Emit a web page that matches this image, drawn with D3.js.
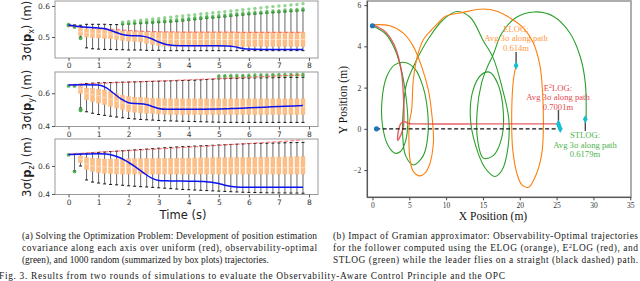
<!DOCTYPE html>
<html>
<head>
<meta charset="utf-8">
<script src="https://d3js.org/d3.v7.min.js"></script>
<style>
body { margin: 0; background: #fff; }
.tick text { fill: #333; }
</style>
</head>
<body>
<svg id="fig" width="640" height="281"></svg>
<script>
// ---------- left figure: box plots of 3-sigma over time ----------
var boxTimes = [0.2,0.4,0.6,0.8,1.0,1.2,1.4,1.6,1.8,2.0,2.2,2.4,2.6,2.8,3.0,3.2,3.4,3.6,3.8,4.0,
  4.2,4.4,4.6,4.8,5.0,5.2,5.4,5.6,5.8,6.0,6.2,6.4,6.6,6.8,7.0,7.2,7.4,7.6,7.8];
var timeTicks = [0,1,2,3,4,5,6,7,8];

// p_x panel
var xHi  = [.539,.538,.541,.541,.541,.541,.540,.540,.541,.542,.543,.544,.545,.546,.547,.548,.549,.550,.552,.554,
  .556,.558,.560,.562,.563,.565,.567,.569,.571,.573,.574,.576,.577,.579,.580,.581,.583,.584,.585];
var xQ3  = [.538,.530,.526,.525,.525,.524,.523,.521,.519,.518,.517,.517,.516,.516,.516,.516,.516,.516,.516,.516,
  .516,.516,.516,.516,.516,.516,.516,.516,.516,.516,.516,.516,.516,.516,.516,.516,.516,.516,.516];
var xMed = [.536,.517,.513,.512,.511,.510,.509,.506,.504,.502,.501,.500,.498,.496,.494,.493,.493,.492,.492,.492,
  .492,.492,.492,.492,.492,.492,.492,.492,.492,.492,.492,.492,.492,.492,.492,.492,.492,.492,.492];
var xQ1  = [.535,.505,.500,.498,.497,.496,.495,.492,.489,.487,.486,.484,.480,.476,.473,.471,.470,.470,.469,.469,
  .469,.469,.469,.469,.469,.469,.469,.469,.469,.469,.469,.469,.469,.469,.469,.469,.469,.469,.469];
var xLo  = [.533,.500,.465,.462,.461,.460,.460,.459,.459,.458,.458,.458,.457,.457,.457,.456,.456,.456,.456,.456,
  .456,.456,.456,.456,.456,.456,.456,.456,.456,.456,.456,.456,.456,.456,.456,.456,.456,.456,.456];
var xFlierTimes = [1.8,2.0,2.2,2.4,2.6,2.8,3.0,3.2,3.4,3.6,3.8,4.0,4.2,4.4,4.6,4.8,5.0,5.2,5.4,5.6,
  5.8,6.0,6.2,6.4,6.6,6.8,7.0,7.2,7.4,7.6,7.8];
var xFlierLo = [.542,.543,.544,.545,.546,.547,.548,.549,.550,.552,.554,.556,.558,.560,.562,.563,.565,.567,.569,.571,
  .573,.574,.576,.577,.579,.580,.581,.583,.584,.585,.587];
var xFlierHi = [.548,.550,.552,.554,.556,.558,.560,.562,.564,.566,.568,.570,.572,.574,.576,.578,.580,.582,.584,.586,
  .588,.590,.592,.594,.596,.598,.600,.601,.603,.605,.607];
var xOptimal = [[0,.540],[0,.537],[0.2,.532],[0.4,.496]];

// p_y panel
var yHi  = [.652,.655,.660,.662,.664,.665,.666,.667,.668,.669,.670,.671,.672,.673,.674,.675,.676,.677,.678,.679,
  .680,.682,.684,.686,.688,.689,.690,.691,.692,.693,.694,.694,.695,.695,.696,.696,.697,.697,.698];
var yQ3  = [.651,.648,.632,.628,.625,.620,.610,.598,.588,.580,.576,.574,.572,.570,.568,.567,.566,.566,.566,.566,
  .566,.566,.566,.566,.566,.566,.566,.566,.566,.566,.566,.566,.566,.566,.566,.566,.566,.566,.566];
var yMed = [.650,.625,.600,.592,.585,.575,.565,.552,.540,.532,.528,.526,.524,.522,.520,.519,.518,.518,.518,.518,
  .518,.518,.518,.518,.518,.518,.518,.518,.518,.518,.518,.518,.518,.518,.518,.518,.518,.518,.518];
var yQ1  = [.649,.600,.560,.548,.540,.530,.520,.510,.500,.490,.485,.480,.478,.476,.474,.472,.471,.470,.469,.469,
  .469,.469,.469,.469,.469,.469,.469,.469,.469,.469,.469,.469,.469,.469,.469,.469,.469,.469,.469];
var yLo  = [.647,.510,.487,.478,.470,.465,.460,.455,.450,.446,.443,.440,.438,.436,.434,.432,.431,.430,.429,.428,
  .427,.426,.425,.424,.423,.422,.422,.422,.422,.422,.422,.422,.422,.422,.422,.422,.422,.422,.422];
var yFlierTimes = [5.0,5.2,5.4,5.6,5.8,6.0,6.2,6.4,6.6,6.8,7.0,7.2,7.4,7.6,7.8];
var yFlierLo = [.700,.701,.702,.703,.703,.704,.705,.706,.706,.707,.708,.708,.709,.710,.710];
var yOptimal = [[0,.645],[0.2,.645],[0.4,.502],[0.4,.495]];

// p_z panel
var zHi  = [.686,.686,.690,.694,.697,.700,.703,.706,.709,.712,.715,.718,.721,.724,.727,.730,.733,.736,.738,.740,
  .742,.744,.746,.748,.750,.752,.754,.756,.758,.760,.761,.762,.763,.764,.765,.766,.767,.768,.769];
var zQ3  = [.685,.672,.660,.655,.652,.650,.650,.650,.651,.652,.652,.653,.653,.654,.654,.655,.655,.656,.656,.657,
  .657,.658,.658,.659,.659,.660,.660,.661,.661,.662,.662,.663,.663,.664,.664,.665,.665,.666,.666];
var zMed = [.684,.648,.615,.600,.595,.592,.590,.589,.588,.588,.588,.588,.588,.588,.588,.588,.588,.588,.588,.588,
  .588,.588,.588,.588,.588,.588,.588,.588,.588,.588,.588,.588,.588,.588,.588,.588,.588,.588,.588];
var zQ1  = [.683,.625,.575,.560,.552,.548,.545,.543,.542,.542,.542,.542,.542,.542,.542,.542,.542,.542,.542,.542,
  .542,.542,.542,.542,.542,.542,.542,.542,.542,.542,.542,.542,.542,.542,.542,.542,.542,.542,.542];
var zLo  = [.565,.600,.500,.485,.478,.472,.468,.465,.462,.458,.455,.452,.450,.447,.444,.441,.438,.435,.432,.430,
  .428,.426,.424,.422,.420,.418,.416,.414,.412,.411,.410,.409,.408,.408,.407,.407,.406,.406,.405];
var zOptimal = [[0,.680],[0.2,.560]];

// uniform trajectory (red dashed) and blue curve
var redTimes = [0,1,2,3,4,5,6,7,7.8];
var xRed = [.535,.528,.521,.517,.516,.516,.515,.515,.515];
var yRed = [.652,.661,.668,.675,.682,.690,.698,.706,.712];
var zRed = [.685,.699,.710,.722,.735,.748,.761,.774,.786];
var blueTimes = [0,0.5,1.0,1.25,1.5,1.75,2.0,2.25,2.5,2.75,3.0,3.25,3.5,4,4.5,5,5.25,5.5,5.75,6,6.5,7,7.5,7.8];
var xBlue = [.539,.532,.529,.526,.518,.509,.505,.504,.502,.495,.484,.476,.473,.472,.472,.472,.471,.469,.464,.461,.460,.460,.460,.460];
var yBlue = [.651,.652,.651,.635,.600,.565,.542,.537,.535,.522,.507,.502,.502,.502,.503,.504,.505,.507,.509,.511,.515,.519,.523,.525];
var zBlue = [.682,.686,.688,.686,.675,.655,.625,.590,.550,.515,.497,.494,.493,.491,.489,.475,.460,.451,.448,.447,.447,.447,.447,.448];

// ---------- right figure: trajectories ----------
var xPosTicks = [0,5,10,15,20,25,30,35];
var yPosTicks = [-2,0,2,4,6];
var leaderPath = [[0.5,0],[25.5,0]];
var e2logPath = [[0,5.05],[1.7,4.72],[2.83,4.16],[3.5,3.51],[3.96,2.7],[4.19,1.73],[4.28,0.76],[4.2,0.1],
  [3.85,-0.3],[3.45,-0.56],[3.5,-0.15],[3.85,0.25],[4.3,0.36],[4.9,0.26],[6,0.24],[15,0.24],[25.25,0.24]];
var elogPath = [[0,5.05],[2.38,5.0],[4.19,4.64],[5.55,4.0],[6.68,3.02],[7.59,1.89],[8.04,0.76],[8.27,-0.21],
  [8.27,-0.7],[7.81,-1.67],[7.13,-2.15],[6.36,-2.28],[5.55,-2.07],[5.1,-1.5],[4.96,-0.7],[5.0,0.28],
  [5.32,0.92],[5.55,2.38],[6.09,3.51],[6.9,4.32],[7.81,4.72],[8.72,5.05],[9.85,5.45],[12.3,5.65],
  [15.05,5.81],[16.9,5.7],[18.7,5.37],[20.5,4.89],[21.85,4.16],[22.76,3.02],[23.1,1.73],[23.2,-0.05],
  [23.0,-1.18],[22.3,-2.15],[21.2,-2.83],[20.3,-2.72],[19.6,-2.15],[19.05,-1.02],[18.9,0.28],
  [19.05,2.05],[19.27,2.7],[19.5,3.07]];
var stlogPath = [[0,5.0],[1.8,4.6],[3.0,3.9],[3.9,2.9],[4.5,1.7],[4.8,0.4],[4.5,-0.6],[3.8,-1.1],[3.06,-1.18],
  [2.1,-0.8],[1.35,0.2],[1.3,1.4],[1.9,2.5],[3.0,3.1],[4.42,3.22],[5.8,2.9],[6.9,2.0],[7.5,0.8],[7.5,-0.4],
  [6.9,-1.3],[5.55,-1.75],[4.5,-1.3],[4.1,-0.3],[4.2,1.0],[4.64,2.2],[6.0,3.35],[7.8,4.48],[9.6,5.29],
  [11.44,5.69],[13.3,5.4],[15.0,4.3],[16.4,3.43],[17.6,2.0],[18.5,0.5],[18.4,-0.9],[17.6,-2.0],[16.64,-2.31],
  [15.3,-1.9],[14.0,-0.8],[13.3,0.5],[13.6,1.8],[14.7,2.6],[15.88,2.75],[17.0,2.2],[17.77,0.8],[17.5,-0.5],
  [16.4,-1.3],[15.05,-1.42],[14.3,-0.6],[14.2,0.8],[14.8,2.2],[15.6,3.0],[16.4,3.6],[17.5,4.6],[19.5,5.4],
  [22,5.67],[24.6,5.45],[26.8,4.65],[28.2,3.51],[28.9,2.22],[29.0,0.47]];
var startPoints = [[0,5],[0.55,0]];
var endPoints = [[19.5,3.07],[25.25,0.24],[28.9,0.47],[25.5,0.0],[25.35,0.12]];

var captionA = ["(a) Solving the Optimization Problem: Development of position estimation",
  "covariance along each axis over uniform (red), observability-optimal",
  "(green), and 1000 random (summarized by box plots) trajectories."];
var captionB = ["(b) Impact of Gramian approximator: Observability-Optimal trajectories",
  "for the follower computed using the ELOG (orange), E\u00B2LOG (red), and",
  "STLOG (green) while the leader flies on a straight (black dashed) path."];
var figCaption = "Fig. 3.  Results from two rounds of simulations to evaluate the Observability-Aware Control Principle and the OPC";

var svg = d3.select("#fig");
var sans = "'DejaVu Sans', sans-serif";
var serif = "'Liberation Serif', serif";

var xT = d3.scaleLinear().domain([-0.45, 8.3]).range([55, 318]);

function zip(ts, vs) { return ts.map(function(t, i) { return [t, vs[i]]; }); }

/**
 * One box-plot panel.
 */
function drawPanel(p, idx) {
  var y = d3.scaleLinear().domain(p.domain).range([p.bottom, p.top]);
  var clipId = "clip" + idx;
  svg.append("clipPath").attr("id", clipId).append("rect")
    .attr("x", 55).attr("y", p.top).attr("width", 263).attr("height", p.bottom - p.top);
  var g = svg.append("g").attr("clip-path", "url(#" + clipId + ")");

  // whiskers
  g.selectAll(".wh").data(boxTimes).enter().append("line")
    .attr("x1", function(t) { return xT(t); }).attr("x2", function(t) { return xT(t); })
    .attr("y1", function(t, i) { return y(p.hi[i]); }).attr("y2", function(t, i) { return y(p.lo[i]); })
    .attr("stroke", "#555").attr("stroke-width", 0.9);
  // caps
  [p.hi, p.lo].forEach(function(arr) {
    g.selectAll(null).data(boxTimes).enter().append("line")
      .attr("x1", function(t) { return xT(t) - 1.5; }).attr("x2", function(t) { return xT(t) + 1.5; })
      .attr("y1", function(t, i) { return y(arr[i]); }).attr("y2", function(t, i) { return y(arr[i]); })
      .attr("stroke", "#111").attr("stroke-width", 1);
  });
  // boxes
  g.selectAll(".bx").data(boxTimes).enter().append("rect")
    .attr("x", function(t) { return xT(t) - 2; }).attr("width", 4)
    .attr("y", function(t, i) { return y(p.q3[i]); })
    .attr("height", function(t, i) { return Math.max(0.8, y(p.q1[i]) - y(p.q3[i])); })
    .attr("fill", "#fdbf88").attr("stroke", "#fcb272").attr("stroke-width", 0.4);
  g.selectAll(".md").data(boxTimes).enter().append("line")
    .attr("x1", function(t) { return xT(t) - 2; }).attr("x2", function(t) { return xT(t) + 2; })
    .attr("y1", function(t, i) { return y(p.med[i]); }).attr("y2", function(t, i) { return y(p.med[i]); })
    .attr("stroke", "#ffe2c6").attr("stroke-width", 0.8);

  // green fliers / optimal
  if (p.flierLo) {
    g.selectAll(null).data(zip(p.flierTimes, p.flierLo)).enter().append("circle")
      .attr("cx", function(d) { return xT(d[0]); }).attr("cy", function(d) { return y(d[1]); })
      .attr("r", 1.7).attr("fill", "#3fa63f").attr("opacity", 0.85);
    g.selectAll(null).data(zip(p.flierTimes, p.flierLo)).enter().append("circle")
      .attr("cx", function(d) { return xT(d[0]); }).attr("cy", function(d) { return y(d[1]) - 1.4; })
      .attr("r", 1.6).attr("fill", "#3fa63f").attr("opacity", 0.7);
  }
  if (p.flierHi) {
    g.selectAll(null).data(zip(p.flierTimes, p.flierHi)).enter().append("circle")
      .attr("cx", function(d) { return xT(d[0]); }).attr("cy", function(d) { return y(d[1]); })
      .attr("r", 1.7).attr("fill", "#80cc80").attr("opacity", 0.85);
  }
  g.selectAll(null).data(p.optimal).enter().append("circle")
    .attr("cx", function(d) { return xT(d[0]); }).attr("cy", function(d) { return y(d[1]); })
    .attr("r", 1.9).attr("fill", "#3fa63f").attr("opacity", 0.85);

  // uniform (red dashed) and blue
  var line = d3.line().curve(d3.curveMonotoneX)
    .x(function(d) { return xT(d[0]); }).y(function(d) { return y(d[1]); });
  g.append("path").datum(zip(redTimes, p.red)).attr("d", line)
    .attr("fill", "none").attr("stroke", "#ff5a5a").attr("stroke-width", 1.2)
    .attr("stroke-dasharray", "4,2").attr("opacity", 0.75);
  g.append("path").datum(zip(blueTimes, p.blue)).attr("d", line)
    .attr("fill", "none").attr("stroke", "#0a14f0").attr("stroke-width", 1.5);

  // frame
  svg.append("rect").attr("x", 55).attr("y", p.top).attr("width", 263).attr("height", p.bottom - p.top)
    .attr("fill", "none").attr("stroke", "#9a9a9a").attr("stroke-width", 1);

  // axes
  var ax = svg.append("g").attr("transform", "translate(0," + p.bottom + ")")
    .call(d3.axisBottom(xT).tickValues(timeTicks).tickSize(3).tickPadding(2).tickFormat(d3.format("d")));
  var ay = svg.append("g").attr("transform", "translate(55,0)")
    .call(d3.axisLeft(y).tickValues(p.ticks).tickSize(3).tickPadding(2).tickFormat(d3.format(".1f")));
  [ax, ay].forEach(function(a) {
    a.select(".domain").remove();
    a.selectAll(".tick line").attr("stroke", "#555");
    a.selectAll(".tick text").style("font-family", sans).style("font-size", "7.5px");
  });

  // y label
  var t = svg.append("text").attr("transform", "translate(" + 31 + "," + p.labelY + ") rotate(-90)")
    .attr("text-anchor", "middle").style("font-family", sans).style("font-size", "11.5px").attr("fill", "#222");
  t.append("tspan").text("3\u03C3(");
  t.append("tspan").style("font-weight", "bold").text("p");
  t.append("tspan").attr("dy", 2.5).style("font-size", "8px").text(p.sub);
  t.append("tspan").attr("dy", -2.5).text(") (m)");
}

var panels = [
  {top: 1, bottom: 58, domain: [0.4323, 0.6161], ticks: [0.5, 0.6], sub: "x", labelY: 31,
   hi: xHi, q3: xQ3, med: xMed, q1: xQ1, lo: xLo, red: xRed, blue: xBlue, optimal: xOptimal,
   flierTimes: xFlierTimes, flierLo: xFlierLo, flierHi: xFlierHi},
  {top: 72, bottom: 126.5, domain: [0.397, 0.730], ticks: [0.4, 0.6], sub: "y", labelY: 100,
   hi: yHi, q3: yQ3, med: yMed, q1: yQ1, lo: yLo, red: yRed, blue: yBlue, optimal: yOptimal,
   flierTimes: yFlierTimes, flierLo: yFlierLo},
  {top: 139, bottom: 194.5, domain: [0.396, 0.793], ticks: [0.4, 0.6], sub: "z", labelY: 167,
   hi: zHi, q3: zQ3, med: zMed, q1: zQ1, lo: zLo, red: zRed, blue: zBlue, optimal: zOptimal}
];
panels.forEach(drawPanel);

svg.append("text").attr("x", 183).attr("y", 219).attr("text-anchor", "middle")
  .style("font-family", sans).style("font-size", "11.5px").attr("fill", "#222").text("Time (s)");

// ---------- right figure ----------
var xP = d3.scaleLinear().domain([-0.7, 35.1]).range([367.3, 631]);
var yP = d3.scaleLinear().domain([-3.32, 6.2]).range([197.3, 1]);
var pl = d3.line().curve(d3.curveCatmullRom.alpha(0.5))
  .x(function(d) { return xP(d[0]); }).y(function(d) { return yP(d[1]); });

svg.append("rect").attr("x", 367.3).attr("y", 1).attr("width", 263.7).attr("height", 196.3)
  .attr("fill", "none").attr("stroke", "#999").attr("stroke-width", 1.6);
svg.append("path").attr("d", "M367.3,1V197.3H631").attr("fill", "none").attr("stroke", "#333").attr("stroke-width", 0.8);

svg.append("path").datum(stlogPath).attr("d", pl).attr("fill", "none").attr("stroke", "#2ca02c").attr("stroke-width", 1.1);
svg.append("path").datum(elogPath).attr("d", pl).attr("fill", "none").attr("stroke", "#ff7f0e").attr("stroke-width", 1.1);
svg.append("path").datum(e2logPath).attr("d", pl).attr("fill", "none").attr("stroke", "#e0454a").attr("stroke-width", 1.4).attr("opacity", 0.85);
svg.append("path").datum(leaderPath).attr("d", d3.line().x(function(d) { return xP(d[0]); }).y(function(d) { return yP(d[1]); }))
  .attr("fill", "none").attr("stroke", "#111").attr("stroke-width", 1.1).attr("stroke-dasharray", "4,2.5");

// stems from annotations to the end points
var stems = [[19.5, 3.07, 52], [25.25, 0.24, 110], [28.9, 0.47, 131]];
svg.selectAll(null).data(stems).enter().append("line")
  .attr("x1", function(d) { return xP(d[0]); }).attr("x2", function(d) { return xP(d[0]); })
  .attr("y1", function(d) { return yP(d[1]); }).attr("y2", function(d) { return d[2]; })
  .attr("stroke", "#4a4a4a").attr("stroke-width", 1.4);

svg.selectAll(null).data(startPoints).enter().append("circle")
  .attr("cx", function(d) { return xP(d[0]); }).attr("cy", function(d) { return yP(d[1]); })
  .attr("r", 2.6).attr("fill", "#1f77b4");
svg.selectAll(null).data(endPoints).enter().append("path")
  .attr("transform", function(d) { return "translate(" + xP(d[0]) + "," + yP(d[1]) + ")"; })
  .attr("d", d3.symbol().type(d3.symbolDiamond).size(20))
  .attr("fill", "#17becf");

var xa = svg.append("g").attr("transform", "translate(0,197.3)")
  .call(d3.axisBottom(xP).tickValues(xPosTicks).tickSize(3).tickPadding(2));
var ya = svg.append("g").attr("transform", "translate(367.3,0)")
  .call(d3.axisLeft(yP).tickValues(yPosTicks).tickSize(3).tickPadding(3));
[xa, ya].forEach(function(a) {
  a.select(".domain").remove();
  a.selectAll(".tick line").attr("stroke", "#444");
  a.selectAll(".tick text").style("font-family", serif).style("font-size", "7.5px");
});
ya.selectAll(".tick text").text(function(d) { return d < 0 ? "\u2212" + Math.abs(d) : d; });

svg.append("text").attr("x", 493).attr("y", 220).attr("text-anchor", "middle")
  .style("font-family", serif).style("font-size", "11.5px").attr("fill", "#111").text("X Position (m)");
svg.append("text").attr("transform", "translate(347,100) rotate(-90)").attr("text-anchor", "middle")
  .style("font-family", serif).style("font-size", "11.5px").attr("fill", "#111").text("Y Position (m)");

function annot(cx, y0, color, head, value, sup) {
  var g = svg.append("g").style("font-family", serif).style("font-size", "8.6px")
    .attr("fill", color).attr("text-anchor", "middle");
  var t1 = g.append("text").attr("x", cx).attr("y", y0);
  if (sup) {
    t1.append("tspan").text("E");
    t1.append("tspan").attr("dy", -3).style("font-size", "6px").text("2");
    t1.append("tspan").attr("dy", 3).text("LOG:");
  } else {
    t1.text(head);
  }
  g.append("text").attr("x", cx).attr("y", y0 + 9.6).text("Avg 3\u03C3 along path");
  g.append("text").attr("x", cx).attr("y", y0 + 19.2).text(value);
}
annot(516, 31.5, "#ff9a45", "ELOG:", "0.614m", false);
annot(558, 90.5, "#e4494e", "E2LOG:", "0.7001m", true);
annot(585, 138, "#4cb34c", "STLOG:", "0.6179m", false);

// ---------- captions ----------
function caption(lines, x0, x1, y0, justifyLast) {
  lines.forEach(function(s, i) {
    var t = svg.append("text").attr("x", x0).attr("y", y0 + i * 12)
      .style("font-family", serif).style("font-size", "9.4px").attr("fill", "#1a1a1a");
    if (s.indexOf("E\u00B2LOG") >= 0) {
      var parts = s.split("E\u00B2LOG");
      t.append("tspan").text(parts[0] + "E");
      t.append("tspan").attr("dy", -3).style("font-size", "6.5px").text("2");
      t.append("tspan").attr("dy", 3).text("LOG" + parts[1]);
    } else {
      t.text(s);
    }
    if (i < lines.length - 1 || justifyLast) {
      t.attr("textLength", x1 - x0).attr("lengthAdjust", "spacing");
    }
  });
}
caption(captionA, 22, 317, 239, false);
caption(captionB, 333, 638, 239, true);
svg.append("text").attr("x", -1).attr("y", 279).attr("textLength", 506).attr("lengthAdjust", "spacing")
  .style("font-family", serif).style("font-size", "9.4px").attr("fill", "#1a1a1a").text(figCaption);
</script>
</body>
</html>
